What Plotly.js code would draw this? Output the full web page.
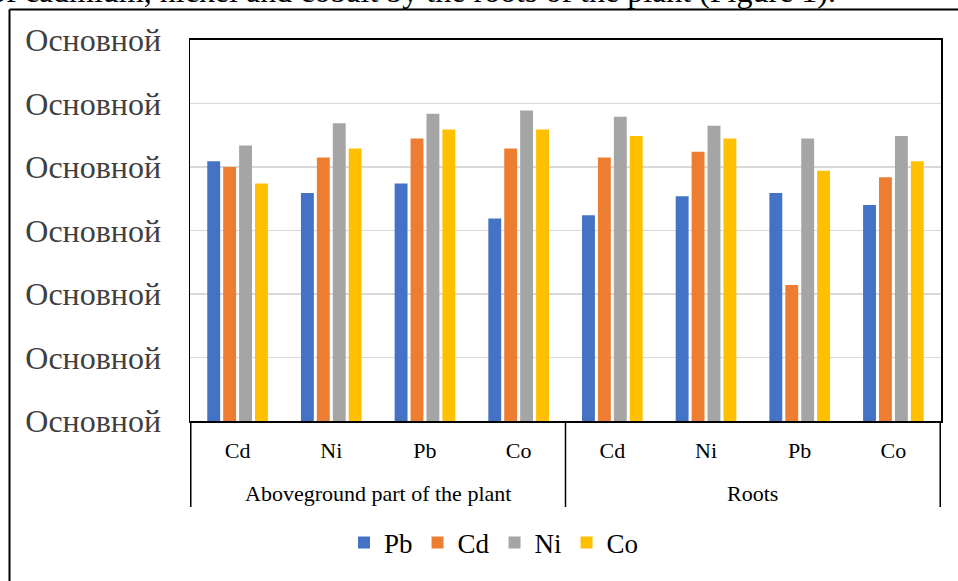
<!DOCTYPE html>
<html>
<head>
<meta charset="utf-8">
<script src="https://cdn.plot.ly/plotly-3.0.1.min.js"></script>
<style>
  html, body { margin: 0; padding: 0; background: #ffffff; }
  #chart { width: 958px; height: 581px; }
</style>
</head>
<body>
<div id="chart"></div>
<script>
// ---- data ----
const groups = ["Aboveground part of the plant", "Aboveground part of the plant", "Aboveground part of the plant", "Aboveground part of the plant",
                "Roots", "Roots", "Roots", "Roots"];
const elements = ["Cd", "Ni", "Pb", "Co", "Cd", "Ni", "Pb", "Co"];
const seriesNames = ["Pb", "Cd", "Ni", "Co"];
const pbValues = [4.09, 3.59, 3.74, 3.19, 3.24, 3.54, 3.59, 3.40];
const cdValues = [4.00, 4.15, 4.45, 4.29, 4.15, 4.24, 2.14, 3.84];
const niValues = [4.34, 4.69, 4.84, 4.89, 4.79, 4.65, 4.45, 4.49];
const coValues = [3.74, 4.29, 4.59, 4.59, 4.49, 4.45, 3.94, 4.09];
const yTickVals = [0, 1, 2, 3, 4, 5, 6];
const yTickText = ["Основной", "Основной", "Основной", "Основной", "Основной", "Основной", "Основной"];
const captionText = "of cadmium, nickel and cobalt by the roots of the plant (Figure 1).";

const colors = ["#4472C4", "#ED7D31", "#A5A5A5", "#FFC000"];
const allValues = [pbValues, cdValues, niValues, coValues];

const FONT = "'Liberation Serif', 'Times New Roman', serif";

// category keys (unique per bar group), labelled with the element names
const catKeys = elements.map((e, i) => groups[i] + " | " + e);

// ---- layout geometry (pixels) ----
const W = 958, H = 581;
const ml = 190, mr = 17, mt = 40, mb = 160;
const pw = W - ml - mr, ph = H - mt - mb;
const px = x => (x - ml) / pw;
const py = y => (H - mb - y) / ph;

const traces = seriesNames.map((name, i) => ({
  type: "bar",
  name: name,
  x: catKeys,
  y: allValues[i],
  marker: { color: colors[i] },
  hoverinfo: "skip"
}));

// group labels and dividers from the groups array
const groupNames = [...new Set(groups)];
const groupAnnotations = groupNames.map(g => {
  const idx = groups.map((v, i) => v === g ? i : -1).filter(i => i >= 0);
  const center = (idx[0] + idx[idx.length - 1]) / 2;
  return { text: g, xref: "x", yref: "paper", x: center, xanchor: "center",
           y: py(493), yanchor: "middle", showarrow: false,
           font: { family: FONT, size: 22, color: "#000000" } };
});
const dividerPos = [-0.5];
for (let i = 1; i < groups.length; i++) if (groups[i] !== groups[i - 1]) dividerPos.push(i - 0.5);
dividerPos.push(groups.length - 0.5);
const dividerShapes = dividerPos.map(d => ({
  type: "line", xref: "x", yref: "paper", x0: d, x1: d, y0: py(421), y1: py(507),
  line: { color: "#000000", width: 1.5 }
}));

const layout = {
  width: W, height: H,
  margin: { l: ml, r: mr, t: mt, b: mb, pad: 0 },
  paper_bgcolor: "#ffffff",
  plot_bgcolor: "#ffffff",
  font: { family: FONT, color: "#000000" },
  barmode: "group",
  bargap: 0.32,
  bargroupgap: 0.19,
  showlegend: true,
  legend: {
    orientation: "h",
    x: px(494), xanchor: "center",
    y: py(543), yanchor: "middle",
    font: { family: FONT, size: 27, color: "#000000" },
    bgcolor: "rgba(0,0,0,0)",
    traceorder: "normal"
  },
  xaxis: {
    type: "category",
    tickmode: "array",
    tickvals: catKeys,
    ticktext: elements,
    showline: true, linecolor: "#000000", linewidth: 2,
    mirror: true,
    showgrid: false,
    ticks: "",
    tickfont: { family: FONT, size: 22, color: "#000000" },
    ticklabelstandoff: 9,
    fixedrange: true
  },
  yaxis: {
    range: [0, 6],
    tickmode: "array",
    tickvals: yTickVals,
    ticktext: yTickText,
    showline: true, linecolor: "#000000", linewidth: 1.5,
    mirror: true,
    showgrid: true, gridcolor: "#D9D9D9", gridwidth: 1.5,
    zeroline: false,
    ticks: "",
    ticklabelstandoff: 21,
    tickfont: { family: FONT, size: 32, color: "#404040" },
    fixedrange: true
  },
  shapes: [
    { type: "line", xref: "paper", yref: "paper", x0: px(9.5), x1: px(9.5), y0: py(9.5), y1: py(600),
      line: { color: "#000000", width: 2 } },
    { type: "line", xref: "paper", yref: "paper", x0: px(9.5), x1: px(980), y0: py(9.5), y1: py(9.5),
      line: { color: "#000000", width: 2 } }
  ].concat(dividerShapes),
  annotations: [
    { text: captionText, xref: "paper", yref: "paper", x: px(-12), xanchor: "left",
      y: py(11), yanchor: "bottom", showarrow: false,
      font: { family: FONT, size: 32, color: "#000000" } }
  ].concat(groupAnnotations)
};

Plotly.newPlot("chart", traces, layout, { displayModeBar: false, staticPlot: true });
</script>
</body>
</html>
